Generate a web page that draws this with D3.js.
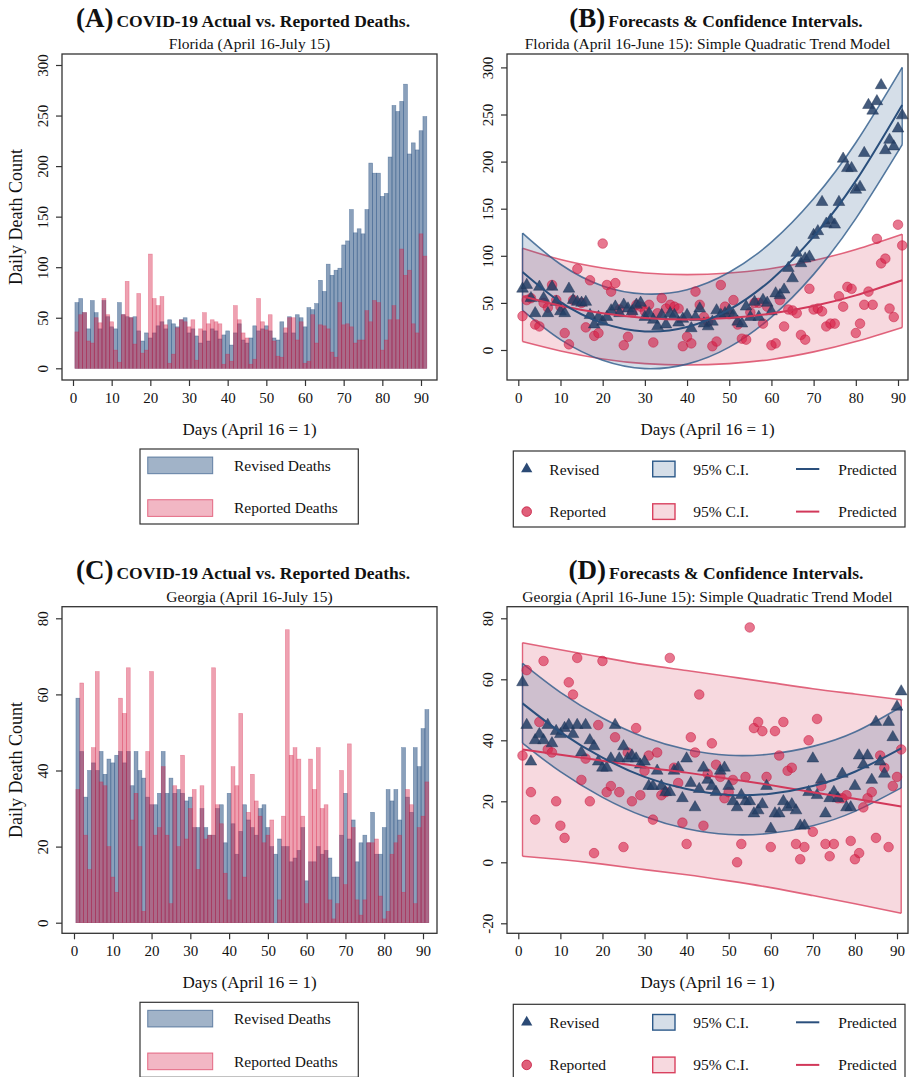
<!DOCTYPE html>
<html><head><meta charset="utf-8">
<script src="https://cdn.jsdelivr.net/npm/d3@7"></script>
<style>
body{margin:0;background:#fff}
svg{display:block}
text{font-family:"Liberation Serif","Times New Roman",serif;fill:#111}
</style>
</head><body><svg id="c" width="911" height="1077"></svg>
<script>
// ---------- DATA ----------
const flRevised = [65,69,55,39,67,55,39,67,51,41, 39,65,53,51,50,51,37,27,35,30, 35,42,46,39,48,44,41,48,50,35,
  39,32,25,37,27,39,37,29,33,37, 23,35,44,28,25,30,42,37,39,42, 37,30,28,46,35,51,35,53,50,41,
  60,58,64,87,76,103,92,97,99,122, 126,157,134,138,133,157,203,193,193,170, 173,209,260,254,264,281,212,223,216,235, 249];
const flReported = [36,53,55,27,25,50,45,69,53,46, 18,6,53,86,50,24,74,15,18,113, 69,62,71,43,5,14,40,48,46,41,
  48,8,39,55,44,48,46,44,4,14, 7,62,48,35,30,4,9,69,46,38, 53,27,12,11,40,50,50,28,46,5,
  7,53,25,43,42,39,16,11,65,43, 44,41,25,28,28,57,46,67,65,18, 28,48,62,48,118,92,97,44,35,133, 111];
const gaRevised = [59,45,33,40,42,40,45,39,43,42, 44,45,42,45,36,45,40,38,33,31, 31,34,45,34,38,34,35,34,32,33,
  25,25,30,25,23,23,30,31,21,34, 26,18,24,31,27,25,23,30,31,25, 20,18,22,20,20,16,17,19,25,11,
  16,16,20,18,19,17,12,12,23,34, 22,27,16,21,23,21,29,18,18,25, 35,32,35,27,46,33,29,46,41,51, 56];
const gaReported = [35,63,23,14,46,66,37,36,20,12, 8,59,55,67,27,34,20,3,45,66, 23,25,41,23,5,36,20,44,22,30,
  35,14,36,22,23,67,31,26,13,6, 41,36,55,12,29,39,32,28,21,23, 27,0,6,28,77,44,46,43,28,5,
  43,35,46,30,31,6,1,5,40,10, 47,25,6,2,6,21,21,22,7,1, 3,18,21,23,8,35,31,5,25,28, 37];

const fitDays = [1,10,20,30,40,50,60,70,80,91];
const flRevPred = [82.8,50.9,28.5,19.7,24.4,42.8,74.7,120.3,179.5,260.2];
const flRevHi   = [124,91,68,59.5,64,82.5,114.5,160.5,220,300];
const flRevLo   = [42,11,-11,-19.8,-15,3,35,80.3,139.5,218];
const flRepPred = [57,47,39,34.1,32.5,34.1,38.8,46.8,58,74];
const flRepHi   = [108,96,87,81.8,80,81.7,86.5,95,106.8,123];
const flRepLo   = [9,-1,-9.5,-14.5,-16,-14.5,-10,-2,9,24];
const gaRevPred = [52.1,42.7,34.3,28,24,22.1,22.5,25,29.7,37.4];
const gaRevHi   = [65.2,55.7,47.3,41,37,35.1,35.5,38,42.7,51];
const gaRevLo   = [39.1,29.7,21.3,15,11,9.1,9.5,12,16.7,24.4];
const gaRepPred = [37,35.3,33.3,31.2,29.4,27.4,25.3,23,20.8,18.3];
const gaRepHi   = [72,69.7,67.2,64.8,62.9,60.9,58.9,56.9,55.2,53.3];
const gaRepLo   = [2,0.9,-0.6,-2.4,-4.1,-6.1,-8.3,-10.9,-13.6,-16.7];

const xTicks = [0,10,20,30,40,50,60,70,80,90];
const flYTicks = [0,50,100,150,200,250,300];
const gaBarYTicks = [0,20,40,60,80];
const gaFitYTicks = [-20,0,20,40,60,80];

const barTitle = "COVID-19 Actual vs. Reported Deaths.";
const fitTitle = "Forecasts & Confidence Intervals.";
const subA = "Florida (April 16-July 15)";
const subB = "Florida (April 16-June 15): Simple Quadratic Trend Model";
const subC = "Georgia (April 16-July 15)";
const subD = "Georgia (April 16-June 15): Simple Quadratic Trend Model";
const xLabel = "Days (April 16 = 1)";
const yLabel = "Daily Death Count";
const barLegend = ["Revised Deaths","Reported Deaths"];
const fitLegend = ["Revised","95% C.I.","Predicted","Reported","95% C.I.","Predicted"];

// ---------- STYLE ----------
const BLUE = "#1f497d", RED = "#d71e46";
const svg = d3.select("#c");

function frame(p){
  svg.append("rect").attr("x",p.x0).attr("y",p.y0).attr("width",p.x1-p.x0).attr("height",p.y1-p.y0)
    .attr("fill","none").attr("stroke","#333").attr("stroke-width",1.3);
}
function axes(p, x, y, yt){
  const gx = svg.append("g").attr("transform",`translate(0,${p.y1})`)
    .call(d3.axisBottom(x).tickValues(xTicks).tickSize(6).tickPadding(6).tickFormat(d=>String(d)));
  gx.select(".domain").remove();
  gx.selectAll("line").attr("stroke","#333").attr("stroke-width",1.2);
  gx.selectAll("text").attr("font-size",15).attr("font-family","Liberation Serif").attr("fill","#111");
  const gy = svg.append("g").attr("transform",`translate(${p.x0},0)`)
    .call(d3.axisLeft(y).tickValues(yt).tickSize(6).tickFormat(d=>String(d)));
  gy.select(".domain").remove();
  gy.selectAll("line").attr("stroke","#333").attr("stroke-width",1.2);
  gy.selectAll("text").attr("font-size",15).attr("font-family","Liberation Serif").attr("fill","#111")
    .attr("transform","rotate(-90)").attr("x",0).attr("y",-14).attr("dy",0).attr("text-anchor","middle");
  svg.append("text").attr("x",(p.x0+p.x1)/2).attr("y",p.y1+55).attr("text-anchor","middle")
    .attr("font-size",17).text(xLabel);
}
function titles(p, letter, title, sub, cx){
  const t = svg.append("text").attr("x",cx).attr("y",p.y0-27.5).attr("text-anchor","middle").attr("font-weight","bold");
  t.append("tspan").attr("font-size",27).text("("+letter+")");
  t.append("tspan").attr("font-size",17.5).attr("dx",3).text(title);
  svg.append("text").attr("x",(p.x0+p.x1)/2).attr("y",p.y0-5).attr("text-anchor","middle")
    .attr("font-size",15.5).text(sub);
}

function barPanel(p, rev, rep, xr, yDom, yRange, yt, letter, sub){
  const x = d3.scaleLinear().domain([0,90]).range(xr);
  const y = d3.scaleLinear().domain(yDom).range(yRange);
  const w = x(1)-x(0);
  const days = rev.map((_,i)=>i+1);
  svg.append("g").selectAll("rect").data(days).join("rect")
    .attr("x",d=>x(d)-w/2).attr("width",w).attr("y",d=>y(rev[d-1])).attr("height",d=>y(0)-y(rev[d-1]))
    .attr("fill",BLUE).attr("fill-opacity",0.52).attr("stroke",BLUE).attr("stroke-opacity",0.5).attr("stroke-width",0.6);
  svg.append("g").selectAll("rect").data(days).join("rect")
    .attr("x",d=>x(d)-w/2).attr("width",w).attr("y",d=>y(rep[d-1])).attr("height",d=>y(0)-y(rep[d-1]))
    .attr("fill",RED).attr("fill-opacity",0.42).attr("stroke",RED).attr("stroke-opacity",0.4).attr("stroke-width",0.6);
  frame(p); axes(p,x,y,yt);
  svg.append("text").attr("transform",`translate(22,${(p.y0+p.y1)/2}) rotate(-90)`).attr("text-anchor","middle")
    .attr("font-size",18).text(yLabel);
  titles(p, letter, barTitle, sub, 243);
  // legend
  const ly = p.y1+69;
  svg.append("rect").attr("x",140).attr("y",ly).attr("width",218.3).attr("height",75)
    .attr("fill","#fff").attr("stroke","#333").attr("stroke-width",1.2);
  [[BLUE,0.42,barLegend[0],ly+8],[RED,0.32,barLegend[1],ly+50.7]].forEach(([c,o,label,yy])=>{
    svg.append("rect").attr("x",147.7).attr("y",yy).attr("width",65).attr("height",16.7)
      .attr("fill",c).attr("fill-opacity",o).attr("stroke",c).attr("stroke-opacity",0.6).attr("stroke-width",1);
    svg.append("text").attr("x",234).attr("y",yy+13.5).attr("font-size",15.5).text(label);
  });
}

function fitPanel(p, rev, rep, xr, yDom, yRange, yt, fits, letter, sub){
  const x = d3.scaleLinear().domain([0,90]).range(xr);
  const y = d3.scaleLinear().domain(yDom).range(yRange);
  const days = rev.map((_,i)=>i+1);
  const area = (lo,hi)=>d3.area().x((d,i)=>x(fitDays[i])).y0((d,i)=>y(lo[i])).y1((d,i)=>y(hi[i])).curve(d3.curveNatural);
  const line = (v)=>d3.line().x((d,i)=>x(fitDays[i])).y((d,i)=>y(v[i])).curve(d3.curveNatural);
  const bandDraw = (lo,hi,c,fo)=>{
    svg.append("path").datum(fitDays).attr("d",area(lo,hi)).attr("fill",c).attr("fill-opacity",fo).attr("stroke","none");
    svg.append("path").datum(fitDays).attr("d",line(hi)).attr("fill","none").attr("stroke",c).attr("stroke-width",1.6).attr("stroke-opacity",0.8);
    svg.append("path").datum(fitDays).attr("d",line(lo)).attr("fill","none").attr("stroke",c).attr("stroke-width",1.6).attr("stroke-opacity",0.8);
    [0,fitDays.length-1].forEach(i=>{
      svg.append("line").attr("x1",x(fitDays[i])).attr("x2",x(fitDays[i])).attr("y1",y(lo[i])).attr("y2",y(hi[i]))
        .attr("stroke",c).attr("stroke-width",1.4).attr("stroke-opacity",0.8);
    });
  };
  bandDraw(fits.repLo,fits.repHi,"#d9415f",0.2);
  bandDraw(fits.revLo,fits.revHi,"#2d5a8a",0.2);
  svg.append("g").selectAll("circle").data(days).join("circle")
    .attr("cx",d=>x(d)).attr("cy",d=>y(rep[d-1])).attr("r",4.8)
    .attr("fill",RED).attr("fill-opacity",0.6).attr("stroke","#c4183e").attr("stroke-opacity",0.6).attr("stroke-width",0.8);
  const tri = d3.symbol(d3.symbolTriangle,60);
  svg.append("g").selectAll("path").data(days).join("path")
    .attr("transform",d=>`translate(${x(d)},${y(rev[d-1])})`).attr("d",tri)
    .attr("fill","#253f66").attr("fill-opacity",0.85).attr("stroke","#1c3152").attr("stroke-opacity",0.7).attr("stroke-width",0.6);
  svg.append("path").datum(fitDays).attr("d",line(fits.repPred)).attr("fill","none").attr("stroke","#d2385a").attr("stroke-width",2);
  svg.append("path").datum(fitDays).attr("d",line(fits.revPred)).attr("fill","none").attr("stroke","#2a4f7c").attr("stroke-width",2);
  frame(p); axes(p,x,y,yt);
  titles(p, letter, fitTitle, sub, 716);
  // legend
  const ly = p.y1+71;
  svg.append("rect").attr("x",513.3).attr("y",ly).attr("width",391.7).attr("height",76)
    .attr("fill","#fff").attr("stroke","#333").attr("stroke-width",1.2);
  const rows = [ly+18, ly+60.6];
  svg.append("path").attr("transform",`translate(526.7,${rows[0]})`).attr("d",d3.symbol(d3.symbolTriangle,55)).attr("fill","#2b4a75");
  svg.append("circle").attr("cx",526.7).attr("cy",rows[1]).attr("r",4.8).attr("fill","#e0607a").attr("stroke","#c4183e").attr("stroke-width",0.8);
  [["#2d5a8a",0],["#d9415f",1]].forEach(([c,i])=>{
    svg.append("rect").attr("x",652.7).attr("y",rows[i]-7.8).attr("width",22.3).attr("height",15.6)
      .attr("fill",c).attr("fill-opacity",0.2).attr("stroke",c).attr("stroke-width",1.4);
    svg.append("line").attr("x1",796).attr("x2",819.3).attr("y1",rows[i]).attr("y2",rows[i])
      .attr("stroke",i?"#d2385a":"#2a4f7c").attr("stroke-width",2);
  });
  fitLegend.forEach((label,k)=>{
    const r = Math.floor(k/3), col = k%3;
    svg.append("text").attr("x",[549.3,693.3,838.3][col]).attr("y",rows[r]+5.5).attr("font-size",15.5).text(label);
  });
}

const pA = {x0:62,x1:437,y0:54,y1:380};
const pB = {x0:507,x1:908,y0:54,y1:380};
const pC = {x0:62,x1:437,y0:606.7,y1:933.3};
const pD = {x0:507,x1:908,y0:606.7,y1:933.3};

barPanel(pA, flRevised, flReported, [73,421], [0,300], [368.3,65], flYTicks, "A", subA);
barPanel(pC, gaRevised, gaReported, [74,423], [0,80], [922.7,618.3], gaBarYTicks, "C", subC);
fitPanel(pB, flRevised, flReported, [518.3,898], [0,300], [350,67.4], flYTicks,
  {revPred:flRevPred,revHi:flRevHi,revLo:flRevLo,repPred:flRepPred,repHi:flRepHi,repLo:flRepLo}, "B", subB);
fitPanel(pD, gaRevised, gaReported, [518.3,897], [0,80], [862.3,618.3], gaFitYTicks,
  {revPred:gaRevPred,revHi:gaRevHi,revLo:gaRevLo,repPred:gaRepPred,repHi:gaRepHi,repLo:gaRepLo}, "D", subD);
</script>
</body></html>
